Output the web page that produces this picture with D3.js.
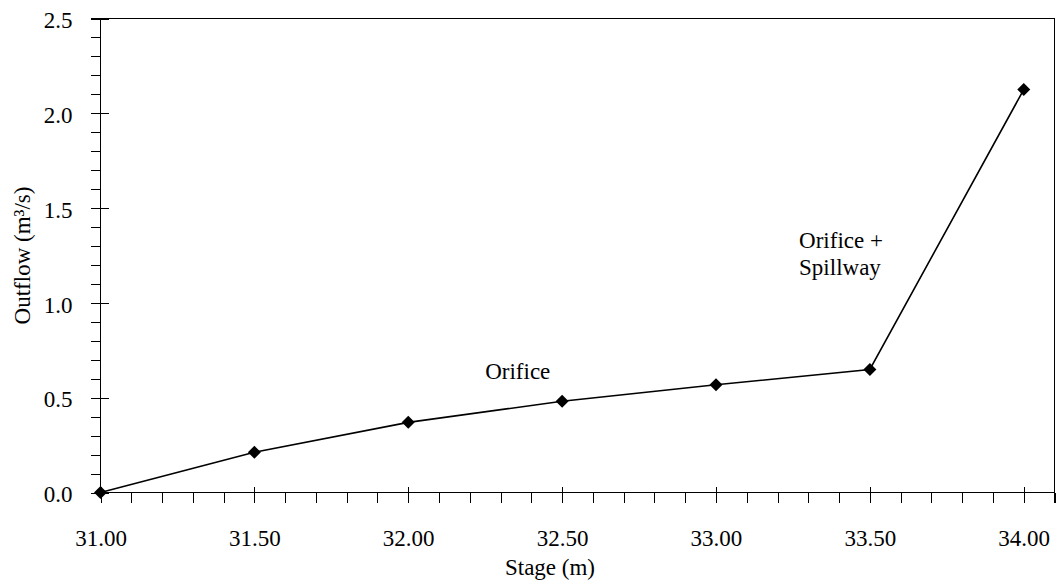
<!DOCTYPE html>
<html>
<head>
<meta charset="utf-8">
<script src="https://cdn.jsdelivr.net/npm/d3@7"></script>
<style>
  body { margin: 0; background: #fff; }
  svg text { font-family: "Liberation Serif", serif; fill: #000; }
  .axis path { display: none; }
  .axis line { stroke: #000; shape-rendering: crispEdges; }
</style>
</head>
<body>
<div id="chart"></div>
<script>
// stage (m) vs outflow (m3/s)
var stage = [31.0, 31.5, 32.0, 32.5, 33.0, 33.5, 34.0];
var outflow = [0.0, 0.212, 0.37, 0.481, 0.568, 0.649, 2.125];
var xTicks = [31.0, 31.5, 32.0, 32.5, 33.0, 33.5, 34.0];
var yTicks = [0.0, 0.5, 1.0, 1.5, 2.0, 2.5];
var notes = [
  {lines: ["Orifice"], x: 32.25, y: 0.6},
  {lines: ["Orifice +", "Spillway"], x: 33.27, y: 1.29}
];

var W = 1056, H = 584;
var svg = d3.select("#chart").append("svg")
    .attr("width", W)
    .attr("height", H);

var x = d3.scaleLinear().domain([31, 34.1]).range([100.5, 1054.5]);
var y = d3.scaleLinear().domain([0, 2.5]).range([492.5, 18.5]);

var xMinor = d3.range(310, 342).map(function(v) { return v / 10; });
var yMinor = d3.range(0, 26).map(function(v) { return v / 10; });

// minor ticks
svg.append("g")
    .attr("class", "axis")
    .attr("transform", "translate(0," + y(0) + ")")
    .call(d3.axisBottom(x).tickValues(xMinor).tickSize(10).tickFormat(""));

svg.append("g")
    .attr("class", "axis")
    .attr("transform", "translate(" + x(31) + ",0)")
    .call(d3.axisLeft(y).tickValues(yMinor).tickSize(10).tickFormat(""));

// major ticks + labels
var xAx = svg.append("g")
    .attr("class", "axis")
    .attr("transform", "translate(0," + y(0) + ")")
    .call(d3.axisBottom(x).tickValues(xTicks).tickSize(10).tickPadding(27)
      .tickFormat(d3.format(".2f")));
xAx.selectAll(".tick line").attr("y1", -6);
xAx.selectAll("text").style("font-size", "23px");

var yAx = svg.append("g")
    .attr("class", "axis")
    .attr("transform", "translate(" + x(31) + ",0)")
    .call(d3.axisLeft(y).tickValues(yTicks).tickSize(10).tickPadding(18)
      .tickFormat(d3.format(".1f")));
yAx.selectAll(".tick line").attr("x1", 8);
yAx.selectAll("text").style("font-size", "23px").attr("dy", "0.4em");

// frame
var x0 = x.range()[0], x1 = x.range()[1], y0 = y.range()[0], y1 = y.range()[1];
svg.append("g")
    .attr("fill", "none")
    .attr("stroke", "#000")
    .attr("shape-rendering", "crispEdges")
  .selectAll("line")
  .data([[x0, y0, x1, y0], [x0, y0, x0, y1], [x0 - 10, y1, x1, y1], [x1, y1, x1, y0 + 10]])
  .enter().append("line")
    .attr("x1", function(d) { return d[0]; })
    .attr("y1", function(d) { return d[1]; })
    .attr("x2", function(d) { return d[2]; })
    .attr("y2", function(d) { return d[3]; });

// axis titles
svg.append("text")
    .attr("x", 550)
    .attr("y", 575)
    .attr("text-anchor", "middle")
    .style("font-size", "23px")
    .text("Stage (m)");

svg.append("text")
    .attr("transform", "translate(30," + ((y0 + y1) / 2) + ") rotate(-90)")
    .attr("text-anchor", "middle")
    .style("font-size", "23px")
    .text("Outflow (m\u00b3/s)");

// the curve
var pts = stage.map(function(s, i) { return {s: s, q: outflow[i]}; });

var line = d3.line()
    .x(function(d) { return x(d.s); })
    .y(function(d) { return y(d.q); });

svg.append("path")
    .datum(pts)
    .attr("fill", "none")
    .attr("stroke", "#000")
    .attr("stroke-width", 1.6)
    .attr("d", line);

svg.selectAll(".pt")
    .data(pts)
  .enter().append("path")
    .attr("class", "pt")
    .attr("transform", function(d) { return "translate(" + x(d.s) + "," + y(d.q) + ")"; })
    .attr("d", "M0,-6.5L6.5,0L0,6.5L-6.5,0Z")
    .attr("fill", "#000");

// annotations
notes.forEach(function(n) {
  var t = svg.append("text")
      .attr("x", x(n.x))
      .attr("y", y(n.y))
      .style("font-size", "23px");
  n.lines.forEach(function(s, i) {
    t.append("tspan")
      .attr("x", x(n.x))
      .attr("dy", i == 0 ? 0 : 27)
      .text(s);
  });
});
</script>
</body>
</html>
